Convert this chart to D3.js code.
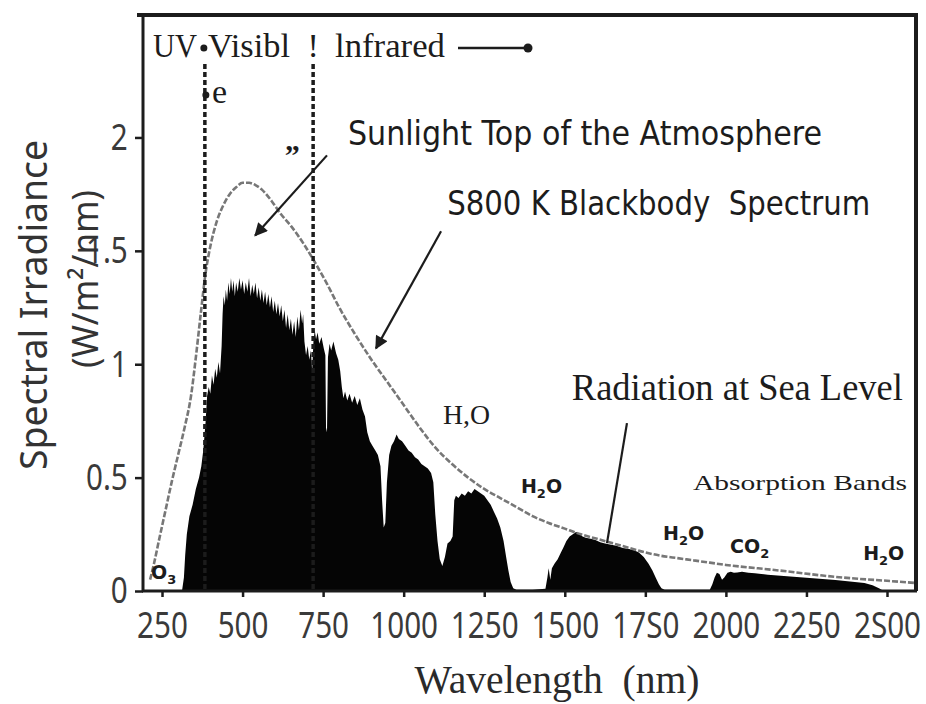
<!DOCTYPE html>
<html>
<head>
<meta charset="utf-8">
<script src="https://cdn.jsdelivr.net/npm/d3@7"></script>
<style>
  body { margin: 0; background: #fff; }
  svg { display: block; }
  text { white-space: pre; }
</style>
</head>
<body>
<svg id="chart" width="926" height="704"></svg>
<script>
// ---- data -------------------------------------------------------------
const xTickValues = [250, 500, 750, 1000, 1250, 1500, 1750, 2000, 2250, 2500];
const xTickLabels = ["250", "500", "750", "1000", "1250", "1500", "17S0", "2000", "2250", "2S00"];
const yTickValues = [0, 0.5, 1, 1.5, 2];
const yTickLabels = ["0", "0.5", "1", "1.5", "2"];

// UV / visible / infrared boundaries (nm)
const regionBoundaries = [383, 719];

// 5800 K blackbody spectrum [wavelength nm, W/m²/nm]
const blackbody = [
  [213,0.05],[225,0.12],[240,0.22],[260,0.35],[280,0.48],[300,0.60],[320,0.72],[340,0.86],
  [355,1.03],[370,1.22],[385,1.40],[400,1.52],[420,1.63],[440,1.70],[460,1.75],[480,1.78],
  [500,1.80],[520,1.80],[540,1.79],[560,1.77],[590,1.72],[620,1.66],[650,1.61],[690,1.53],
  [720,1.46],[760,1.36],[800,1.25],[850,1.13],[900,1.02],[950,0.92],[1000,0.82],[1050,0.72],
  [1100,0.63],[1150,0.56],[1200,0.50],[1250,0.45],[1300,0.41],[1350,0.37],[1400,0.33],
  [1450,0.30],[1500,0.275],[1550,0.25],[1600,0.23],[1650,0.21],[1700,0.19],[1750,0.17],
  [1800,0.155],[1850,0.145],[1900,0.135],[1950,0.125],[2000,0.115],[2100,0.10],[2200,0.085],
  [2300,0.068],[2400,0.055],[2500,0.045],[2590,0.035]
];

// Radiation at sea level [wavelength nm, W/m²/nm]
const seaLevel = [
  [312,0],[318,0.06],[322,0.16],[327,0.25],[335,0.33],[345,0.38],[355,0.45],[365,0.50],
  [372,0.55],[378,0.62],[385,0.74],[390,0.86],[395,0.90],[400,0.87],[405,0.95],[410,0.91],
  [415,0.98],[420,0.94],[425,1.01],[430,0.96],[435,1.08],[438,1.22],[441,1.30],[445,1.26],
  [448,1.33],[452,1.28],[456,1.36],[460,1.31],[464,1.38],[468,1.32],[472,1.37],[476,1.30],
  [480,1.36],[485,1.32],[490,1.38],[495,1.33],[500,1.37],[505,1.31],[510,1.36],[515,1.32],
  [520,1.38],[525,1.30],[530,1.35],[535,1.31],[540,1.36],[545,1.29],[550,1.34],[555,1.28],
  [560,1.33],[565,1.27],[570,1.32],[575,1.26],[580,1.31],[585,1.25],[590,1.30],[595,1.23],
  [600,1.28],[605,1.22],[610,1.27],[615,1.21],[620,1.26],[625,1.19],[630,1.24],[635,1.16],
  [640,1.22],[645,1.15],[650,1.20],[655,1.13],[660,1.19],[665,1.12],[670,1.21],[675,1.15],
  [680,1.24],[685,1.18],[688,1.22],[692,1.10],[697,1.04],[702,1.08],[707,1.02],[712,1.06],
  [716,0.97],[720,1.10],[724,1.15],[728,1.11],[733,1.14],[738,1.09],[745,1.12],[752,1.07],
  [757,1.04],[759,0.72],[762,0.70],[765,1.03],[770,1.09],[775,1.06],[782,1.10],[790,1.05],
  [797,1.02],[803,0.97],[808,0.90],[813,0.85],[818,0.88],[825,0.84],[832,0.87],[840,0.83],
  [848,0.86],[856,0.82],[864,0.85],[872,0.80],[880,0.77],[887,0.70],[895,0.66],[903,0.64],
  [912,0.62],[920,0.60],[928,0.55],[933,0.40],[938,0.28],[943,0.30],[948,0.48],[955,0.60],
  [962,0.64],[970,0.66],[978,0.69],[985,0.67],[995,0.66],[1005,0.64],[1015,0.62],[1025,0.61],
  [1035,0.59],[1045,0.58],[1055,0.56],[1065,0.55],[1075,0.54],[1085,0.52],[1092,0.48],
  [1098,0.34],[1105,0.22],[1112,0.14],[1120,0.11],[1128,0.15],[1136,0.21],[1145,0.22],
  [1152,0.24],[1157,0.40],[1162,0.42],[1170,0.41],[1180,0.43],[1190,0.42],[1200,0.44],
  [1210,0.43],[1220,0.45],[1230,0.44],[1240,0.43],[1250,0.42],[1260,0.40],[1270,0.38],
  [1280,0.35],[1290,0.32],[1300,0.28],[1310,0.22],[1318,0.15],[1325,0.09],[1332,0.04],
  [1340,0.012],[1350,0.006],[1400,0.006],[1440,0.01],[1446,0.06],[1450,0.10],[1455,0.05],
  [1460,0.10],[1468,0.12],[1478,0.14],[1488,0.17],[1495,0.19],[1505,0.22],[1515,0.24],
  [1525,0.25],[1535,0.26],[1545,0.255],[1555,0.24],[1565,0.235],[1580,0.23],[1595,0.225],
  [1610,0.215],[1625,0.21],[1640,0.205],[1660,0.20],[1680,0.19],[1700,0.185],[1715,0.18],
  [1730,0.17],[1745,0.15],[1760,0.12],[1772,0.09],[1782,0.06],[1792,0.03],[1800,0.012],
  [1810,0.006],[1950,0.006],[1958,0.03],[1965,0.06],[1972,0.08],[1980,0.075],[1988,0.05],
  [1995,0.06],[2005,0.08],[2015,0.085],[2025,0.08],[2035,0.082],[2050,0.085],[2070,0.08],
  [2090,0.078],[2110,0.075],[2130,0.072],[2160,0.068],[2190,0.065],[2220,0.062],[2250,0.058],
  [2280,0.055],[2310,0.052],[2340,0.048],[2370,0.044],[2400,0.04],[2430,0.035],[2455,0.025],
  [2475,0.012],[2490,0]
];

// ---- layout -----------------------------------------------------------
const svg = d3.select("#chart");
const plotLeft = 143, plotRight = 916, plotTop = 15, plotBottom = 591;
const x = d3.scaleLinear().domain([191, 2590]).range([plotLeft, plotRight]);
const y = d3.scaleLinear().domain([0, 2.54]).range([plotBottom, plotTop]);
const ink = "#1c1c1c";

svg.append("rect").attr("width", 926).attr("height", 704).attr("fill", "#fff");

const defs = svg.append("defs");
defs.append("clipPath").attr("id", "plot")
  .append("rect").attr("x", plotLeft).attr("y", plotTop)
  .attr("width", plotRight - plotLeft).attr("height", plotBottom - plotTop);
defs.append("marker").attr("id", "head")
  .attr("viewBox", "0 0 10 10").attr("refX", 9).attr("refY", 5)
  .attr("markerWidth", 7).attr("markerHeight", 6).attr("markerUnits", "strokeWidth")
  .attr("orient", "auto")
  .append("path").attr("d", "M0,0 L10,5 L0,10 Z").attr("fill", ink);

const plot = svg.append("g").attr("clip-path", "url(#plot)");

// sea-level spectrum (filled black)
plot.append("path")
  .datum(seaLevel)
  .attr("fill", "#050505")
  .attr("d", d3.area().x(d => x(d[0])).y0(y(0)).y1(d => y(d[1])));

// blackbody curve
plot.append("path")
  .datum(blackbody)
  .attr("fill", "none")
  .attr("stroke", "#777")
  .attr("stroke-width", 2.6)
  .attr("stroke-dasharray", "6,2")
  .attr("d", d3.line().x(d => x(d[0])).y(d => y(d[1])).curve(d3.curveMonotoneX));

// region boundaries
plot.selectAll("line.region")
  .data(regionBoundaries)
  .join("line")
  .attr("class", "region")
  .attr("x1", d => x(d)).attr("x2", d => x(d))
  .attr("y1", 64).attr("y2", plotBottom)
  .attr("stroke", ink).attr("stroke-width", 3.5)
  .attr("stroke-dasharray", "5,3");

// ---- axes -------------------------------------------------------------
const tickFont = "'Noto Sans', 'Open Sans', sans-serif";

const xAxis = svg.append("g")
  .attr("transform", `translate(0,${plotBottom})`)
  .call(d3.axisBottom(x).tickValues(xTickValues)
    .tickFormat((d, i) => xTickLabels[i]).tickSize(6).tickPadding(15));
xAxis.select(".domain").remove();
xAxis.selectAll(".tick line").attr("stroke", ink).attr("stroke-width", 2.5);
xAxis.selectAll(".tick text")
  .attr("fill", "#3a3a3a").attr("font-family", tickFont).attr("font-size", 37)
  .attr("transform", "scale(0.8,1)");

const yAxis = svg.append("g")
  .attr("transform", `translate(${plotLeft},0)`)
  .call(d3.axisLeft(y).tickValues(yTickValues)
    .tickFormat((d, i) => yTickLabels[i]).tickSize(8).tickPadding(11));
yAxis.select(".domain").remove();
yAxis.selectAll(".tick line").attr("stroke", ink).attr("stroke-width", 2.5);
yAxis.selectAll(".tick text")
  .attr("fill", "#3a3a3a").attr("font-family", tickFont).attr("font-size", 37)
  .attr("transform", "scale(0.8,1)");

// frame
svg.append("line").attr("x1", plotLeft).attr("x2", plotLeft).attr("y1", plotTop - 2).attr("y2", plotBottom + 1)
  .attr("stroke", ink).attr("stroke-width", 3);
svg.append("line").attr("x1", plotLeft - 1).attr("x2", plotRight + 1).attr("y1", plotBottom).attr("y2", plotBottom)
  .attr("stroke", ink).attr("stroke-width", 3);
svg.append("line").attr("x1", plotLeft - 6).attr("x2", plotRight + 2).attr("y1", plotTop).attr("y2", plotTop)
  .attr("stroke", ink).attr("stroke-width", 4);
svg.append("line").attr("x1", plotRight).attr("x2", plotRight).attr("y1", plotTop - 2).attr("y2", plotBottom)
  .attr("stroke", ink).attr("stroke-width", 4);

// ---- titles -----------------------------------------------------------
const serif = "'Liberation Serif', 'DejaVu Serif', serif";
const sans = "'DejaVu Sans', 'Noto Sans', sans-serif";

function label(px, py, str, opts) {
  const t = svg.append("text")
    .attr("x", px).attr("y", py)
    .attr("fill", opts.fill || ink)
    .attr("font-family", opts.family || serif)
    .attr("font-size", opts.size)
    .attr("font-weight", opts.weight || "normal")
    .attr("text-anchor", opts.anchor || "start")
    .text(str);
  if (opts.len) t.attr("textLength", opts.len).attr("lengthAdjust", "spacingAndGlyphs");
  return t;
}

svg.append("text")
  .attr("transform", "translate(47,305) rotate(-90)")
  .attr("text-anchor", "middle")
  .attr("fill", "#333").attr("font-family", tickFont).attr("font-size", 38)
  .attr("textLength", 330).attr("lengthAdjust", "spacingAndGlyphs")
  .text("Spectral Irradiance");
svg.append("text")
  .attr("transform", "translate(98,279) rotate(-90)")
  .attr("text-anchor", "middle")
  .attr("fill", "#333").attr("font-family", tickFont).attr("font-size", 36)
  .attr("textLength", 178).attr("lengthAdjust", "spacingAndGlyphs")
  .text("(W/m²/nm)");

label(557, 693, "Wavelength  (nm)", { size: 40, anchor: "middle", len: 285, fill: "#2a2a2a" });

// ---- region header ----------------------------------------------------
const hy = 57;
label(153, hy, "UV", { size: 34, len: 44 });
svg.append("circle").attr("cx", x(regionBoundaries[0]) - 1).attr("cy", hy - 9).attr("r", 3.5).attr("fill", ink);
label(208, hy, "Visibl", { size: 34, len: 82 });
label(x(regionBoundaries[1]), hy, "!", { size: 34, anchor: "middle" });
label(335, hy, "lnfrared", { size: 34, len: 110 });
svg.append("line").attr("x1", 458).attr("x2", 525).attr("y1", hy - 9).attr("y2", hy - 9)
  .attr("stroke", ink).attr("stroke-width", 2.5);
svg.append("circle").attr("cx", 528).attr("cy", hy - 9).attr("r", 4.5).attr("fill", ink);
svg.append("circle").attr("cx", x(regionBoundaries[0]) + 1).attr("cy", 95).attr("r", 3.5).attr("fill", ink);
label(212, 103, "e", { size: 34 });
label(285, 150, "„", { size: 30, weight: "bold" });

// ---- annotations ------------------------------------------------------
label(x(827), y(1.965), "Sunlight Top of the Atmosphere", { family: sans, size: 33, len: 474 });
label(x(1135), y(1.656), "S800 K Blackbody  Spectrum", { family: sans, size: 33, len: 423 });
label(x(1522), y(0.841), "Radiation at Sea Level", { size: 37, len: 331 });
label(x(1898), y(0.445), "Absorption Bands", { size: 22, len: 214 });
label(x(1122), y(0.736), "H,O", { size: 27, len: 47 });

function chem(w, v, base, sub, tail) {
  const t = svg.append("text")
    .attr("x", x(w)).attr("y", y(v))
    .attr("fill", ink).attr("font-family", sans).attr("font-weight", "bold")
    .attr("font-size", 19);
  t.append("tspan").text(base);
  t.append("tspan").attr("font-size", 13).attr("dy", 5).text(sub);
  if (tail) t.append("tspan").attr("dy", -5).text(tail);
}
chem(1364, 0.432, "H", "2", "O");
chem(1805, 0.225, "H", "2", "O");
chem(2013, 0.167, "CO", "2", "");
chem(2426, 0.137, "H", "2", "O");
chem(216, 0.053, "O", "3", "");

function arrow(w1, v1, w2, v2, head) {
  const l = svg.append("line")
    .attr("x1", x(w1)).attr("y1", y(v1)).attr("x2", x(w2)).attr("y2", y(v2))
    .attr("stroke", ink).attr("stroke-width", 2.2);
  if (head) l.attr("marker-end", "url(#head)");
}
arrow(762, 1.921, 539, 1.568, true);
arrow(1116, 1.586, 914, 1.070, true);
arrow(1693, 0.740, 1631, 0.211, false);
</script>
</body>
</html>
